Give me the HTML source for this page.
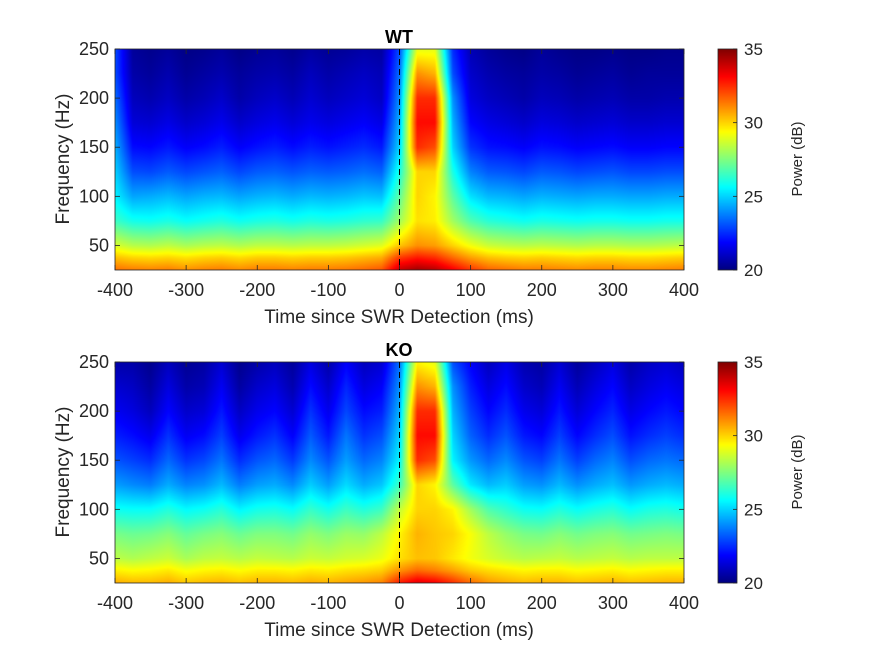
<!DOCTYPE html>
<html><head><meta charset="utf-8">
<style>
body{margin:0;background:#fff;}
#wrap{position:relative;width:875px;height:656px;font-family:"Liberation Sans",sans-serif;color:#262626;}
canvas{position:absolute;}
svg{position:absolute;left:0;top:0;}
</style></head>
<body>
<div id="wrap">
<canvas id="c1" width="569" height="221" style="left:115px;top:49px"></canvas>
<canvas id="c2" width="569" height="221" style="left:115px;top:362px"></canvas>
<canvas id="cb1" width="19" height="221" style="left:718px;top:49px"></canvas>
<canvas id="cb2" width="19" height="221" style="left:718px;top:362px"></canvas>
<svg id="ov" width="875" height="656"></svg>
</div>
<script>
const times = [-400,-375,-350,-325,-300,-275,-250,-225,-200,-175,-150,-125,-100,-75,-50,-25,0,25,50,75,100,125,150,175,200,225,250,275,300,325,350,375,400];
const freqs = [250,225,200,175,150,125,100,75,50,37.5,25];
const xTicks = [-400,-300,-200,-100,0,100,200,300,400];
const yTicks = [50,100,150,200,250];
const cbTicks = [20,25,30,35];
const wtPower = [
[23,20.4,20.2,20.4,20.1,20.2,20.4,20.1,20.3,20.4,20.2,20.5,20.3,20.4,20.6,20.5,23,29,29,22.5,20.8,20.4,20.2,20.1,20.4,20.2,20.1,20.1,20.2,20.1,20.1,20.2,20.2],
[23,20.6,20.4,20.7,20.3,20.5,20.7,20.4,20.6,20.7,20.5,20.9,20.6,20.8,21,20.8,23.5,31,30.5,23,21.1,20.7,20.5,20.4,20.6,20.5,20.3,20.4,20.5,20.3,20.4,20.4,20.4],
[23.5,20.9,20.7,21,20.6,20.8,21.1,20.6,20.9,21.1,20.8,21.2,20.9,21.1,21.3,21,24,32.5,32.5,24,21.4,21,20.8,20.6,20.9,20.8,20.6,20.7,20.8,20.6,20.6,20.7,20.7],
[24,21.3,21.2,21.5,21.1,21.3,21.6,21.1,21.4,21.6,21.3,21.6,21.4,21.6,21.8,21.5,24.5,33,33,24.5,21.9,21.5,21.3,21.1,21.4,21.3,21.1,21.2,21.3,21.1,21.1,21.2,21.2],
[24.5,22,21.9,22.2,21.8,22,22.3,21.8,22.1,22.3,22,22.3,22.1,22.3,22.5,22.2,25,32.5,32,25,22.6,22.1,22,21.8,22.1,22,21.8,21.9,22,21.8,21.8,21.9,21.9],
[25,23,22.9,23.2,22.9,23.1,23.3,22.9,23.2,23.3,23.1,23.3,23.2,23.3,23.5,23.3,26,30,30,26,23.8,23.2,23.1,22.9,23.2,23.1,22.9,23,23.1,22.9,22.9,23,23],
[25.5,24.3,24.4,24.6,24.3,24.5,24.6,24.3,24.5,24.6,24.4,24.6,24.5,24.6,24.8,24.7,27,30,29.5,27,25.2,24.6,24.5,24.3,24.5,24.4,24.3,24.4,24.4,24.3,24.3,24.4,24.4],
[26.5,25.9,25.8,26,25.7,25.9,26.1,25.8,26,26.1,25.9,26.1,26,26.1,26.3,26.4,28,29.8,29.6,28,26.8,26.2,26,25.8,26,25.9,25.8,25.9,25.9,25.8,25.8,25.9,25.9],
[28.8,28.3,28.2,28.4,28.1,28.3,28.4,28.2,28.4,28.4,28.3,28.4,28.4,28.5,28.7,28.9,30.2,31,30.8,30,29.2,28.6,28.4,28.3,28.4,28.3,28.2,28.3,28.3,28.2,28.2,28.3,28.4],
[30.3,30,29.9,30,29.8,30,30.1,29.9,30.1,30.1,30,30.1,30.1,30.2,30.4,30.6,32.3,32.8,32.5,31.6,30.8,30.3,30.1,30,30.1,30,29.9,30,30,29.9,29.9,30,30.1],
[31.5,31.3,31.2,31.3,31,31.2,31.3,31.1,31.3,31.3,31.2,31.3,31.3,31.4,31.6,31.9,34,34.5,34.2,33.3,32.4,31.7,31.5,31.3,31.3,31.2,31.1,31.2,31.2,31.1,31.1,31.2,31.3]
];
const koPower = [
[20.6,20.6,20.2,20.9,20.3,20.5,21.2,20.2,20.6,20.9,20.4,21.4,20.6,21.8,20.9,21.2,23.5,29.5,29,23,21.8,20.9,21.5,20.7,20.5,21.2,20.4,20.9,21.4,20.6,21,21.2,20.9],
[21.2,21,20.5,21.4,20.6,20.8,21.7,20.5,21.1,21.4,20.7,22,21.1,22.4,21.4,21.8,24,31,30.5,24,22.3,21.4,22,21.1,20.8,21.7,20.8,21.4,21.9,21,21.4,21.7,21.4],
[21.7,21.4,20.9,21.9,21.1,21.3,22.2,21,21.6,21.9,21.2,22.6,21.6,22.9,22,22.3,24.5,32.5,32.5,24.5,22.8,21.9,22.5,21.6,21.3,22.2,21.3,21.9,22.4,21.5,21.9,22.2,21.9],
[22.3,22,21.6,22.6,21.7,22,22.8,21.6,22.2,22.6,21.8,23.2,22.2,23.6,22.6,23,25,33,33,25,23.3,22.5,23.1,22.2,21.9,22.8,21.9,22.5,23,22.1,22.5,22.8,22.5],
[23.1,22.8,22.5,23.4,22.6,22.9,23.6,22.5,23.1,23.4,22.7,23.9,23.1,24.2,23.4,23.8,25.5,32.5,32,25.5,24.1,23.4,23.9,23.1,22.8,23.6,22.8,23.4,23.8,23,23.4,23.6,23.4],
[24.2,23.9,23.7,24.4,23.8,24,24.6,23.7,24.2,24.4,23.9,24.9,24.2,25.1,24.4,24.8,26.5,30,29.5,27,25.3,24.6,24.9,24.2,24,24.6,24,24.4,24.7,24.1,24.4,24.6,24.4],
[25.8,25.7,25.7,26.1,25.6,25.8,26.2,25.5,25.9,26,25.7,26.4,25.9,26.5,26.1,26.5,28.5,30,30,29.5,28,26.8,26.3,25.8,25.7,26.1,25.7,26,26.2,25.7,26,26.1,25.9],
[27.4,27.2,27.3,27.6,27.1,27.4,27.6,27.2,27.5,27.5,27.3,27.8,27.5,27.9,27.8,28.4,29.5,30.5,30.2,30,29.3,28.4,27.8,27.4,27.3,27.6,27.3,27.5,27.6,27.3,27.4,27.5,27.4],
[28.4,28.2,28.4,28.6,28.1,28.4,28.5,28.3,28.5,28.4,28.3,28.6,28.5,28.7,28.8,29.1,29.8,30.3,30.2,29.7,29.2,28.8,28.5,28.3,28.4,28.5,28.3,28.4,28.5,28.3,28.4,28.4,28.4],
[29.6,29.4,29.5,29.7,29.3,29.5,29.6,29.4,29.6,29.6,29.5,29.7,29.6,29.8,29.9,30.1,31,31.6,31.3,30.8,30.2,29.9,29.7,29.5,29.6,29.6,29.4,29.5,29.6,29.4,29.5,29.6,29.6],
[30.6,30.4,30.4,30.6,30.2,30.4,30.5,30.3,30.5,30.5,30.4,30.6,30.5,30.7,30.9,31.2,32.8,33.6,33.3,32.5,31.6,30.9,30.6,30.4,30.5,30.5,30.3,30.4,30.5,30.3,30.4,30.5,30.5]
];
const cMin = 20, cMax = 35;
function jet(v){
  let x=(v-cMin)/(cMax-cMin); x=Math.max(0,Math.min(1,x));
  const cl=a=>Math.max(0,Math.min(1,a));
  return [cl(1.5-Math.abs(4*x-3))*255, cl(1.5-Math.abs(4*x-2))*255, cl(1.5-Math.abs(4*x-1))*255];
}
const W=569,H=221, tMin=-400,tMax=400,fMin=25,fMax=250;
function sample(grid,t,f){
  let i=0; while(i<times.length-2 && times[i+1]<t) i++;
  let a=(t-times[i])/(times[i+1]-times[i]); a=Math.max(0,Math.min(1,a));
  let j=0; while(j<freqs.length-2 && freqs[j+1]>f) j++;
  let b=(freqs[j]-f)/(freqs[j]-freqs[j+1]); b=Math.max(0,Math.min(1,b));
  const v00=grid[j][i],v01=grid[j][i+1],v10=grid[j+1][i],v11=grid[j+1][i+1];
  return (v00*(1-a)+v01*a)*(1-b)+(v10*(1-a)+v11*a)*b;
}
function drawHeat(id,grid){
  const ctx=document.getElementById(id).getContext('2d');
  const img=ctx.createImageData(W,H);
  for(let y=0;y<H;y++){const f=fMax-(y+0.5)/H*(fMax-fMin);
    for(let x=0;x<W;x++){const t=tMin+(x+0.5)/W*(tMax-tMin);
      const c=jet(sample(grid,t,f)); const k=(y*W+x)*4;
      img.data[k]=c[0];img.data[k+1]=c[1];img.data[k+2]=c[2];img.data[k+3]=255;}}
  ctx.putImageData(img,0,0);
}
function drawCb(id){
  const ctx=document.getElementById(id).getContext('2d');
  for(let y=0;y<H;y++){const v=cMax-(y+0.5)/H*(cMax-cMin);const c=jet(v);
    ctx.fillStyle=`rgb(${c[0]|0},${c[1]|0},${c[2]|0})`;ctx.fillRect(0,y,19,1);}
}
drawHeat('c1',wtPower); drawHeat('c2',koPower); drawCb('cb1'); drawCb('cb2');

const svg=document.getElementById('ov'); const NS='http://www.w3.org/2000/svg';
function el(tag,attrs,txt){const e=document.createElementNS(NS,tag);for(const k in attrs)e.setAttribute(k,attrs[k]);if(txt!==undefined)e.textContent=txt;svg.appendChild(e);return e;}
const ax0=115,ax1=684;
const xs=t=>ax0+(t-tMin)/(tMax-tMin)*(ax1-ax0);
function panel(top,title,key){
  const bot=top+221; const ys=f=>bot-(f-fMin)/(fMax-fMin)*221;
  let r=el('rect',{x:ax0,y:top,width:ax1-ax0,height:221,fill:'none',stroke:'#262626','stroke-width':0.8});
  
  xTicks.forEach(t=>{
    el('line',{x1:xs(t),x2:xs(t),y1:bot,y2:bot-5,stroke:'#262626','stroke-width':0.8});
    el('line',{x1:xs(t),x2:xs(t),y1:top,y2:top+5,stroke:'#262626','stroke-width':0.8});
    const tx=el('text',{x:xs(t),y:bot+26,'text-anchor':'middle','font-size':18,fill:'#262626'},String(t));
    
  });
  yTicks.forEach(f=>{
    el('line',{x1:ax0,x2:ax0+5,y1:ys(f),y2:ys(f),stroke:'#262626','stroke-width':0.8});
    el('line',{x1:ax1,x2:ax1-5,y1:ys(f),y2:ys(f),stroke:'#262626','stroke-width':0.8});
    const tx=el('text',{x:ax0-6,y:ys(f)+6,'text-anchor':'end','font-size':18,fill:'#262626'},String(f));
    
  });
  const dl=el('line',{x1:xs(0),x2:xs(0),y1:top,y2:bot,stroke:'#000','stroke-width':1,'stroke-dasharray':'6,4'});
  
  const tt=el('text',{x:399,y:top-6,'text-anchor':'middle','font-size':18,'font-weight':'bold',fill:'#000'},title);
  
  const xl=el('text',{x:399,y:bot+53,'text-anchor':'middle','font-size':19,fill:'#262626'},'Time since SWR Detection (ms)');
  
  const yl=el('text',{x:0,y:0,'text-anchor':'middle','font-size':19,fill:'#262626',transform:`translate(69,${top+110}) rotate(-90)`},'Frequency (Hz)');
  
  const cbs=v=>bot-(v-cMin)/(cMax-cMin)*221;
  const cr=el('rect',{x:718,y:top,width:19,height:221,fill:'none',stroke:'#262626','stroke-width':0.8});
  
  cbTicks.forEach(v=>{
    el('line',{x1:737,x2:733,y1:cbs(v),y2:cbs(v),stroke:'#262626','stroke-width':0.8});
    const tx=el('text',{x:744,y:cbs(v)+6,'font-size':17,fill:'#262626'},String(v));
    
  });
  const cl=el('text',{x:0,y:0,'text-anchor':'middle','font-size':15,fill:'#262626',transform:`translate(802,${top+110}) rotate(-90)`},'Power (dB)');
  
}
panel(49,'WT','wt'); panel(362,'KO','ko');
</script>
</body></html>
